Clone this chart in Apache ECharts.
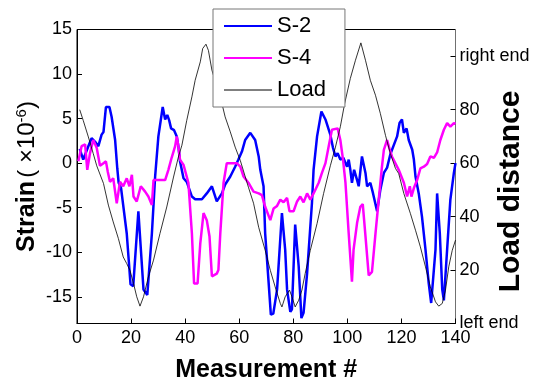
<!DOCTYPE html>
<html>
<head>
<meta charset="utf-8">
<script src="https://cdn.jsdelivr.net/npm/echarts@6/dist/echarts.min.js"></script>
<style>html,body{margin:0;padding:0;background:#fff}#c{width:541px;height:383px}</style>
</head>
<body>
<div id="c"></div>
<script>
// ---- data ----
const xTicks = [0, 20, 40, 60, 80, 100, 120, 140];
const leftTicks = [-15, -10, -5, 0, 5, 10, 15];
const rightTicks = [0, 20, 40, 60, 80, 100];
const rightTickLabels = ['left end', '20', '40', '60', '80', 'right end'];

const s2X = [1,2.3,3,4.2,5.4,6.7,7.9,9.1,9.8,10.7,12,12.8,14.1,14.9,15.4,16.3,18.4,19.8,20.8,22.7,24.6,26,27.7,28.9,30.1,31.7,32.6,33.4,34.1,34.8,35.9,36.9,37.5,38.1,39.4,40.6,42.5,43.7,46.2,48,49.9,51.7,53.6,54.8,56.7,58.5,59.7,61,62.2,64.1,65.9,67.2,67.8,69,69.6,70.9,71.7,72.6,74,75.8,77,77.7,78.9,79.5,80.7,82,83,83.8,85.1,86.9,87.5,88.8,90.4,91.9,93.7,94.7,95.6,96.4,97.4,98.5,99.9,100.5,101.1,101.7,102.5,103.6,104.2,105.4,106.7,107.3,108.5,109.5,111,112.2,113.5,114.7,115.9,118.4,119.3,120.2,120.9,121.9,122.7,124,124.6,125.2,126.4,127.6,128.9,130.1,131,131.7,132.6,133.2,134.2,135.1,135.7,136.9,138.1,139.4,140];
const s2Y = [1.6,0.4,0.6,1.9,2.8,2.4,1.9,3.2,3.5,6.3,6.3,5.2,2.6,-0.6,-2.2,-2.8,-7.9,-13.6,-13.8,-5.4,-14.2,-14.8,-7.9,-1.5,3.0,6.3,4.9,5.4,4.8,3.9,3.7,3.0,1.9,0.2,-1.7,-2.1,-3.75,-4.05,-4.05,-3.4,-2.6,-4.3,-3.4,-2.4,-1.5,-0.4,0.4,1.3,2.6,3.4,2.6,0.75,-0.75,-2.6,-7.9,-13.5,-17.0,-16.9,-14.2,-5.6,-9.7,-14.2,-16.7,-16.4,-6.9,-11.6,-17.4,-16.8,-12.4,-4.5,-0.75,3.0,5.8,4.9,3.2,1.7,0.75,1.1,0.4,0.6,-0.4,0.4,-0.75,-2.2,-0.75,-1.9,-2.6,0.75,-1.1,-2.6,-2.2,-3.4,-5.4,-3.0,-1.1,-0.5,1.0,3.0,4.5,4.9,3.4,3.9,2.6,1.5,0.4,-1.5,-3.4,-6.0,-9.7,-13.5,-15.7,-15.7,-9.7,-3.4,-7.9,-14.2,-15.4,-9.7,-4.1,-1.1,0];

const s4X = [0.5,1.7,3,3.8,4.8,6,7.3,8.5,9.8,10.7,11.4,12.2,13.4,14.7,15.9,17.1,18.4,19.4,20.3,20.9,22.1,23.6,25.2,26.4,27.7,28.3,32.6,33.8,35,36.3,36.9,37.5,38.1,39.4,40,41.2,42.5,43.3,44.6,45.6,46.8,48,49,49.9,51.7,52.3,53,54.2,55.4,59.1,60.4,61.6,63.4,65.3,67.2,68.4,69.6,71.5,72.7,74,75.2,76.4,77.7,78.6,80.1,81.4,82.6,83.8,85.1,86.3,87.5,89.4,90.6,91.9,93.1,94.3,96.4,97.4,98.4,99.3,100.5,101.7,102.3,103.6,104.8,105.7,106.7,107.9,109.1,110.4,111.6,112.8,113.5,114.7,115.6,116.5,117.1,119,120.9,122.1,123.1,123.7,124.6,125.8,127,128.3,129.5,130.7,132,133.2,134.4,135.7,136.9,138.1,139.4,140];
const s4Y = [0.2,1.9,2.1,-0.75,1.1,2.6,1.7,-0.3,0,0.2,-1.0,-2.1,-1.7,-4.5,-2.1,-2.6,-1.7,-2.6,-1.3,-3.75,-4.3,-2.6,-3.2,-3.75,-4.7,-1.9,-1.9,-0.75,0.6,1.9,3.0,1.9,0.4,-0.2,-0.4,-2.2,-7.9,-13.5,-13.5,-9,-5.6,-6.4,-8.2,-12.7,-12.4,-12,-7.9,-2.2,0,0,-0.4,-1.5,-2.2,-3.2,-3.4,-3.6,-4.9,-6.4,-5.1,-4.8,-4.1,-4.4,-3.9,-5.4,-5.4,-4.3,-3.75,-4.4,-3.4,-4.1,-3.4,-2.2,-1.1,0,1.9,3.75,3.9,2.6,0.4,-2.2,-7.9,-13.3,-9.7,-6.7,-4.9,-4.6,-8.2,-12.6,-12.2,-7.9,-4.1,-0.4,1.5,2.6,1.6,0.75,0.6,-0.75,-2.2,-3.75,-2.6,-3.75,-2.8,-1.9,-0.6,-0.4,-0.1,0.75,0.6,1.2,2.6,3.75,4.5,4.1,4.5,4.4];

const loadX = [1,2.3,4.2,6,7.3,9.8,11.6,13.4,15.3,17.1,18.4,19.6,20.9,22.1,23.3,24.6,26.4,28.3,30.7,33.2,35.7,37.5,38.8,40.6,42.5,43.7,45.6,46.5,47.7,48.6,49.9,53.6,54.8,56.7,58.5,60.4,63.4,65.3,67.2,69.6,71.5,73.3,75.2,75.8,77,78.6,79.5,80.7,82,83.2,84.4,86.3,88.8,91.2,93.7,95.6,97.4,99,101.1,103,105,106.7,108.5,110.4,112.2,114.1,115.9,117.8,119,120.9,123.3,125.2,127,128.9,130.7,132.6,133.8,135.1,136.3,137.5,138.8,140];
const loadY = [80,76,69.8,63.6,59,52.4,44.3,38,31.8,24.9,22.4,19.9,15,10,6.5,10,17.4,23.7,33.7,43.6,54.8,62.3,66.7,76,84.8,91,97.9,102.9,104.5,102.2,94.8,82.3,77.3,71.7,66,61,51,45,36,27.4,19.9,13.7,7.5,6.2,10,12.5,10,6.2,8.7,12.5,18.7,27.4,37.4,48.6,59,66,73.6,82.3,91.7,98.5,105,98.5,91,85.4,78.6,70.4,63.6,58,56.1,48.6,41.2,34.9,28.7,21.2,13.7,8.1,6.5,7.5,12.5,21.2,27.4,31.2];

const zip = (xs, ys) => xs.map((x, i) => [x, ys[i]]);
const FONT = 'Arial, "Liberation Sans", Helvetica, sans-serif';
const hiddenSymbol = {color: 'rgba(0,0,0,0)', borderWidth: 0, opacity: 0};

const chart = echarts.init(document.getElementById('c'), null, {renderer: 'canvas'});
chart.setOption({
  animation: false,
  backgroundColor: '#fff',
  textStyle: {fontFamily: FONT},
  grid: {left: 77, right: 85.5, top: 29.5, bottom: 59.5, containLabel: false, outerBoundsMode: 'none',
         show: true, borderColor: '#000', borderWidth: 1, backgroundColor: 'transparent'},
  legend: {
    orient: 'vertical', left: 213, top: 9,
    padding: [6, 19, 6, 10],
    itemWidth: 48, itemHeight: 20, itemGap: 10,
    backgroundColor: '#fff', borderColor: '#777', borderWidth: 1,
    itemStyle: hiddenSymbol,
    textStyle: {fontSize: 22, fontFamily: FONT, color: '#000', lineHeight: 20},
    data: [
      {name: 'S-2', itemStyle: hiddenSymbol, lineStyle: {width: 2}},
      {name: 'S-4', itemStyle: hiddenSymbol, lineStyle: {width: 2}},
      {name: 'Load', itemStyle: hiddenSymbol, lineStyle: {width: 1}}
    ]
  },
  xAxis: {
    type: 'value', min: 0, max: 140, interval: 20,
    name: 'Measurement #', nameLocation: 'middle', nameGap: 34, nameMoveOverlap: false,
    nameTextStyle: {fontSize: 25, fontWeight: 'bold', color: '#000', fontFamily: FONT},
    axisLine: {show: true, onZero: false, lineStyle: {color: '#000', width: 1}},
    axisTick: {show: true, inside: true, length: 5, lineStyle: {color: '#000'}},
    axisLabel: {fontSize: 18, color: '#000', margin: 6, fontFamily: FONT},
    splitLine: {show: false}
  },
  yAxis: [{
    type: 'value', min: -18, max: 15, position: 'left',
    name: '{b|Strain} {n|( ×10}{s|-6}{n|)}', nameLocation: 'middle', nameGap: 36, nameMoveOverlap: false,
    nameTextStyle: {
      color: '#000', fontFamily: FONT,
      rich: {
        b: {fontSize: 25, fontWeight: 'bold', color: '#000', fontFamily: FONT},
        n: {fontSize: 24, color: '#000', fontFamily: FONT},
        s: {fontSize: 15, color: '#000', fontFamily: FONT, verticalAlign: 'top', padding: [0, 0, 12, 0]}
      }
    },
    axisLine: {show: true, onZero: false, lineStyle: {color: '#000', width: 1}},
    axisTick: {show: true, inside: true, length: 5, customValues: leftTicks, lineStyle: {color: '#000'}},
    axisLabel: {fontSize: 18, color: '#000', margin: 5, customValues: leftTicks, fontFamily: FONT},
    splitLine: {show: false}
  }, {
    type: 'value', min: 0, max: 110, position: 'right',
    name: 'Load distance', nameLocation: 'middle', nameGap: 40, nameMoveOverlap: false,
    nameTextStyle: {fontSize: 30, fontWeight: 'bold', color: '#000', fontFamily: FONT, padding: [0, 30, 0, 0]},
    axisLine: {show: true, onZero: false, lineStyle: {color: '#707070', width: 1}},
    axisTick: {show: true, inside: true, length: 5, customValues: rightTicks, lineStyle: {color: '#000'}},
    axisLabel: {
      fontSize: 18, color: '#000', margin: 4, customValues: rightTicks, fontFamily: FONT,
      formatter: v => rightTickLabels[rightTicks.indexOf(v)] ?? ''
    },
    splitLine: {show: false}
  }],
  series: [
    {name: 'S-2', type: 'line', yAxisIndex: 0, data: zip(s2X, s2Y), symbol: 'none', showSymbol: false,
     lineStyle: {color: '#0000ff', width: 2.5}, itemStyle: {color: '#0000ff'}},
    {name: 'S-4', type: 'line', yAxisIndex: 0, data: zip(s4X, s4Y), symbol: 'none', showSymbol: false,
     lineStyle: {color: '#ff00ff', width: 2.5}, itemStyle: {color: '#ff00ff'}},
    {name: 'Load', type: 'line', yAxisIndex: 1, data: zip(loadX, loadY), symbol: 'none', showSymbol: false,
     lineStyle: {color: '#000', width: 0.8}, itemStyle: {color: '#000'}}
  ]
});
</script>
</body>
</html>
